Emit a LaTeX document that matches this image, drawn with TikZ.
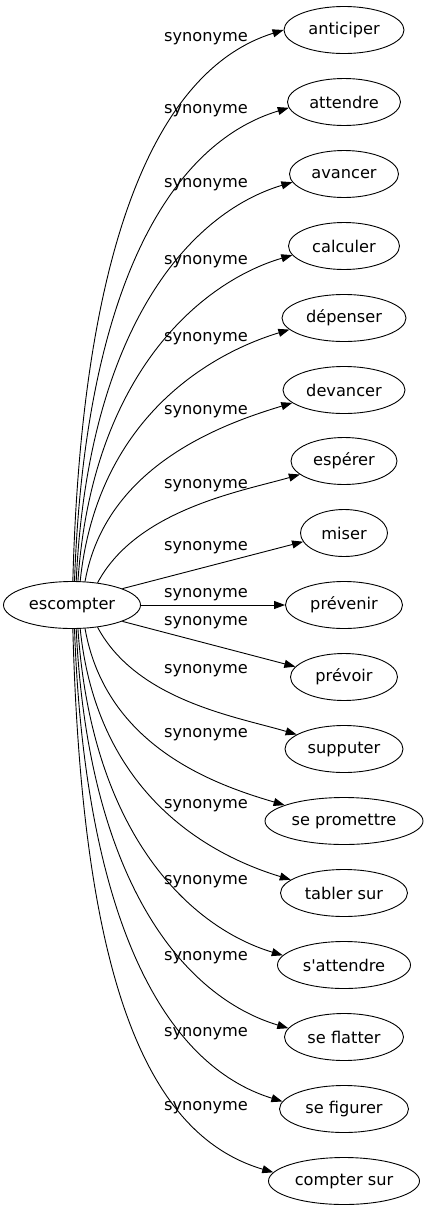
\documentclass[tikz,border=0pt]{standalone}
\usepackage{fontspec}
\setmainfont{DejaVu Sans}
\usetikzlibrary{shapes.geometric,arrows.meta}
\tikzset{
  term/.style={ellipse, draw, line width=0.9pt, inner sep=0pt, minimum height=47pt, font=\fontsize{16.2}{19}\selectfont},
  lbl/.style={inner sep=0pt, font=\fontsize{16.2}{19}\selectfont},
  syn/.style={draw, line width=0.9pt, -{Triangle[length=11pt,width=8pt]}}
}
\begin{document}
\begin{tikzpicture}[x=1pt,y=-1pt]
\useasboundingbox (0,0) rectangle (428,1211);
\node[term, minimum width=137pt] (src) at (72,605) {escompter};
\node[term, minimum width=120pt] (t1) at (344,30) {anticiper};
\node[term, minimum width=113pt] (t2) at (344,102) {attendre};
\node[term, minimum width=109pt] (t3) at (344,174) {avancer};
\node[term, minimum width=111pt] (t4) at (344,246) {calculer};
\node[term, minimum width=124pt] (t5) at (344,318) {dépenser};
\node[term, minimum width=122pt] (t6) at (344,390) {devancer};
\node[term, minimum width=106pt] (t7) at (344,461) {espérer};
\node[term, minimum width=87pt] (t8) at (344,533) {miser};
\node[term, minimum width=117pt] (t9) at (344,605) {prévenir};
\node[term, minimum width=107pt] (t10) at (344,677) {prévoir};
\node[term, minimum width=118pt] (t11) at (344,749) {supputer};
\node[term, minimum width=158pt] (t12) at (344,821) {se promettre};
\node[term, minimum width=127pt] (t13) at (344,893) {tabler sur};
\node[term, minimum width=133pt] (t14) at (344,965) {s\textquotesingle attendre};
\node[term, minimum width=119pt] (t15) at (344,1037) {se flatter};
\node[term, minimum width=129pt] (t16) at (344,1109) {se figurer};
\node[term, minimum width=151pt] (t17) at (344,1181) {compter sur};
% labels
\node[lbl] (l1) at (206,39) {synonyme};
\node[lbl] (l2) at (206,111) {synonyme};
\node[lbl] (l3) at (206,185) {synonyme};
\node[lbl] (l4) at (206,262) {synonyme};
\node[lbl] (l5) at (206,339) {synonyme};
\node[lbl] (l6) at (206,412) {synonyme};
\node[lbl] (l7) at (206,486) {synonyme};
\node[lbl] (l8) at (206,548) {synonyme};
\node[lbl] (l9) at (206,595) {synonyme};
\node[lbl] (l10) at (206,623) {synonyme};
\node[lbl] (l11) at (206,671) {synonyme};
\node[lbl] (l12) at (206,735) {synonyme};
\node[lbl] (l13) at (206,806) {synonyme};
\node[lbl] (l14) at (206,882) {synonyme};
\node[lbl] (l15) at (206,958) {synonyme};
\node[lbl] (l16) at (206,1034) {synonyme};
\node[lbl] (l17) at (206,1108) {synonyme};
% edges
\draw[syn] (src.88) .. controls (82,240) and (158,69) .. (t1.180);
\draw[syn] (src.84) .. controls (85,284) and (172,143) .. (t2.186);
\draw[syn] (src.80) .. controls (88,329) and (189,213) .. (t3.189);
\draw[syn] (src.76) .. controls (92,374) and (201,282) .. (t4.190);
\draw[syn] (src.71) .. controls (97,419) and (209,354) .. (t5.192);
\draw[syn] (src.61) .. controls (106,464) and (226,423) .. (t6.194);
\draw[syn] (src.41) .. controls (137,509) and (243,491) .. (t7.197);
\draw[syn] (src.18) -- (t8.192);
\draw[syn] (src.east) -- (t9.west);
\draw[syn] (src.-18) -- (t10.168);
\draw[syn] (src.-41) .. controls (137,701) and (238,717) .. (t11.163);
\draw[syn] (src.-61) .. controls (106,747) and (216,785) .. (t12.165);
\draw[syn] (src.-71) .. controls (97,792) and (206,854) .. (t13.166);
\draw[syn] (src.-76) .. controls (92,837) and (192,928) .. (t14.171);
\draw[syn] (src.-80) .. controls (88,882) and (184,997) .. (t15.171);
\draw[syn] (src.-84) .. controls (85,926) and (167,1066) .. (t16.173);
\draw[syn] (src.-88) .. controls (82,971) and (143,1134) .. (t17.173);
\end{tikzpicture}
\end{document}
